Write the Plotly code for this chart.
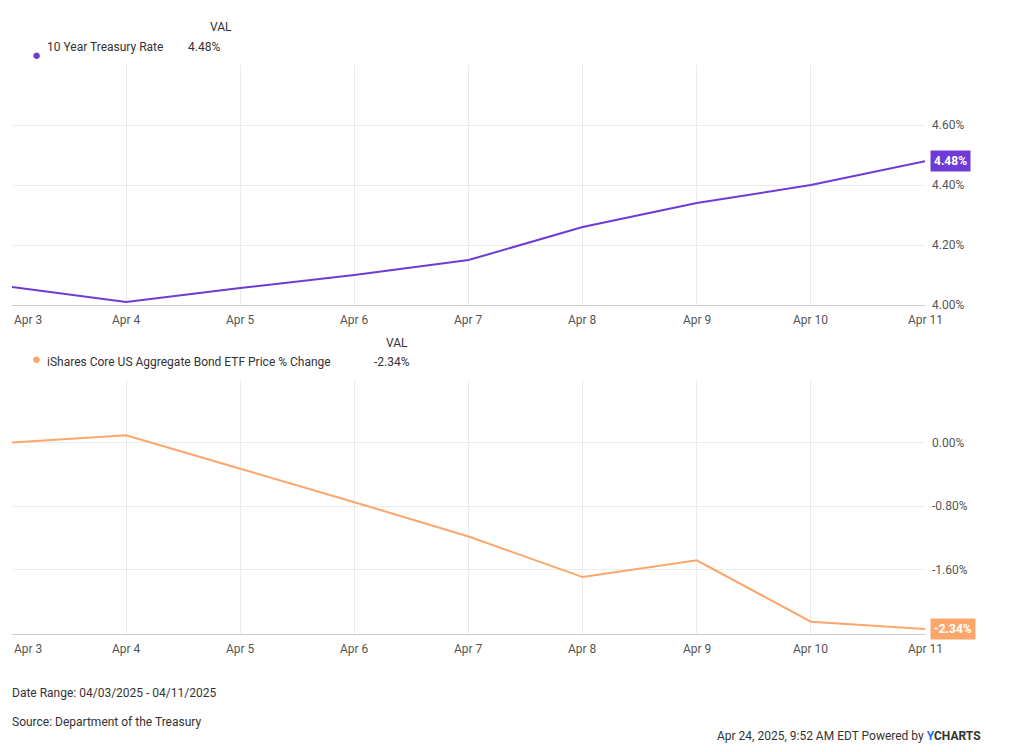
import plotly.graph_objects as go
from plotly.subplots import make_subplots

x_labels = ["Apr 3","Apr 4","Apr 5","Apr 6","Apr 7","Apr 8","Apr 9","Apr 10","Apr 11"]
treasury = [4.06, 4.01, 4.057, 4.10, 4.15, 4.26, 4.34, 4.40, 4.48]
bond = [0.00, 0.09, -0.33, -0.75, -1.18, -1.69, -1.48, -2.25, -2.34]
PURPLE = "#6f3bd6"
ORANGE = "#fca66c"
xs = list(range(len(x_labels)))

fig = make_subplots(rows=2, cols=1, vertical_spacing=0.0)
fig.add_trace(go.Scatter(x=xs, y=treasury, mode="lines", line=dict(color=PURPLE, width=2), showlegend=False), 1, 1)
fig.add_trace(go.Scatter(x=xs, y=bond, mode="lines", line=dict(color=ORANGE, width=2), showlegend=False), 2, 1)

ax = dict(tickmode="array", tickvals=xs, ticktext=x_labels, range=[0, 8], showgrid=True,
          gridcolor="#ebebeb", showline=True, linecolor="#cccccc", ticks="", automargin=False,
          showticklabels=False)
fig.update_xaxes(**ax)
fig.update_yaxes(side="right", showgrid=True, gridcolor="#ebebeb", zeroline=False, ticks="", automargin=False,
                 ticklabelstandoff=6, tickfont=dict(size=12, color="#555"))
fig.update_yaxes(range=[4.0, 4.8], tickvals=[4.0, 4.2, 4.4, 4.6], ticktext=["4.00%","4.20%","4.40%","4.60%"], row=1, col=1)
fig.update_yaxes(range=[-2.4, 0.78], tickvals=[-1.6, -0.8, 0.0], ticktext=["-1.60%","-0.80%","0.00%"], row=2, col=1)

fig.update_layout(
    width=1024, height=752, paper_bgcolor="white", plot_bgcolor="white",
    font=dict(family="Roboto", size=12, color="#333"),
    margin=dict(l=4, r=107, t=0, b=0),
)
fig.update_layout(yaxis=dict(domain=[0.605, 0.924]), yaxis2=dict(domain=[0.168, 0.505]),
                  xaxis=dict(anchor="y"), xaxis2=dict(anchor="y2"))

for xr, yr in [("x", "y domain"), ("x2", "y2 domain")]:
    for i, (xv, lab) in enumerate(zip(xs, x_labels)):
        anc = "left" if i == 0 else "center"
        fig.add_annotation(xref=xr, yref=yr, x=xv, y=0, yshift=-15, text=lab, xanchor=anc,
                           yanchor="middle", showarrow=False, font=dict(size=12, color="#555"))

def px(x): return (x - 14) / 913
def py(y): return 1 - (y - 8) / 752

ann = [
    (210, 27, "VAL"),
    (47, 47, "10 Year Treasury Rate"),
    (188, 47, "4.48%"),
    (386, 343, "VAL"),
    (47, 362, "iShares Core US Aggregate Bond ETF Price % Change"),
    (374, 362, "-2.34%"),
    (12, 693, "Date Range: 04/03/2025 - 04/11/2025"),
    (12, 722, "Source: Department of the Treasury"),
    (717, 736, "Apr 24, 2025, 9:52 AM EDT Powered by <b><span style='color:#1a73e8'>Y</span>CHARTS</b>"),
]
for x, y, t in ann:
    fig.add_annotation(xref="paper", yref="paper", x=px(x), y=py(y), xanchor="left", yanchor="middle",
                       showarrow=False, font=dict(size=12, color="#333"), text=t)
for y, c in [(44, PURPLE), (359, ORANGE)]:
    fig.add_annotation(xref="paper", yref="paper", x=px(32), y=py(y), text="●", showarrow=False,
                       font=dict(size=15, color=c))
fig.add_annotation(xref="x domain", yref="y", x=1.005, y=4.48, text="<b>4.48%</b>", xanchor="left",
                   showarrow=False, bgcolor=PURPLE, font=dict(color="white", size=12), borderpad=3)
fig.add_annotation(xref="x2 domain", yref="y2", x=1.005, y=-2.34, text="<b>-2.34%</b>", xanchor="left",
                   showarrow=False, bgcolor=ORANGE, font=dict(color="white", size=12), borderpad=3)
fig.write_html("out.html")
